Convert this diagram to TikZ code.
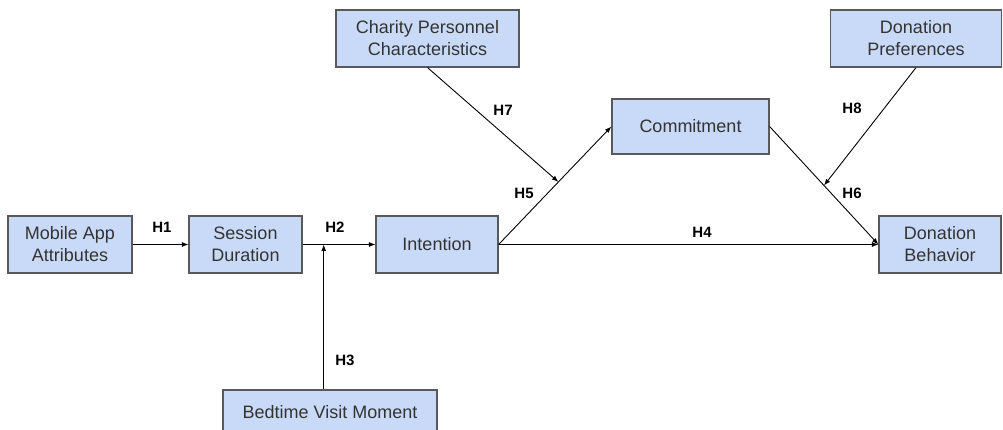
\documentclass[tikz,border=0pt]{standalone}
\usepackage{fontspec}
\setmainfont{Liberation Sans}
\usetikzlibrary{arrows.meta,calc}
\definecolor{boxblue}{HTML}{C9DAF8}
\definecolor{boxline}{HTML}{595959}
\definecolor{boxtext}{HTML}{333333}
\tikzset{
  construct/.style={draw=boxline, line width=1.2pt, fill=boxblue, inner sep=0pt,
    align=center, text=boxtext, font=\fontsize{18}{22}\selectfont},
  hyp/.style={font=\bfseries\fontsize{15}{18}\selectfont},
  link/.style={-{Latex[length=6.5pt,width=5pt]}, line width=0.9pt}
}
\begin{document}
\begin{tikzpicture}[x=1pt,y=-1pt]
  \useasboundingbox (0,0) rectangle (1003,430);
  % Constructs
  \node[construct, minimum width=124pt, minimum height=57pt] (app) at (70,244.5) {Mobile App\\Attributes};
  \node[construct, minimum width=113pt, minimum height=57pt] (session) at (245.5,244.5) {Session\\Duration};
  \node[construct, minimum width=122pt, minimum height=57pt] (intention) at (437,244.5) {Intention};
  \node[construct, minimum width=214pt, minimum height=44pt] (bedtime) at (330,412) {Bedtime Visit Moment};
  \node[construct, minimum width=183pt, minimum height=57pt] (charity) at (427.5,38.5) {Charity Personnel\\Characteristics};
  \node[construct, minimum width=157pt, minimum height=55pt] (commitment) at (690.5,126.5) {Commitment};
  \node[construct, minimum width=171pt, minimum height=57pt] (prefs) at (916,38.5) {Donation\\Preferences};
  \node[construct, minimum width=122pt, minimum height=57pt] (behavior) at (940,244.5) {Donation\\Behavior};
  % Direct paths
  \draw[link] (app.east) -- (session.west);
  \draw[link] (session.east) -- (intention.west);
  \draw[link] (intention.east) -- (commitment.west);
  \draw[link] (intention.east) -- (behavior.west);
  \draw[link] (commitment.east) -- (behavior.west);
  % Moderators
  \coordinate (m2) at ($(session.east)!0.29!(intention.west)$);
  \coordinate (m5) at ($(intention.east)!0.53!(commitment.west)$);
  \coordinate (m6) at ($(commitment.east)!0.5!(behavior.west)$);
  \draw[link] (bedtime.north -| m2) -- (m2);
  \draw[link] (charity.south) -- (m5);
  \draw[link] (prefs.south) -- (m6);
  % Hypotheses
  \node[hyp] (h1) at (162,227) {H1};
  \node[hyp] (h2) at (335,227) {H2};
  \node[hyp] (h3) at (345,360) {H3};
  \node[hyp] (h4) at (702,232) {H4};
  \node[hyp] (h5) at (524,193) {H5};
  \node[hyp] (h6) at (852,193) {H6};
  \node[hyp] (h7) at (503,110) {H7};
  \node[hyp] (h8) at (852,108) {H8};
\end{tikzpicture}
\end{document}
